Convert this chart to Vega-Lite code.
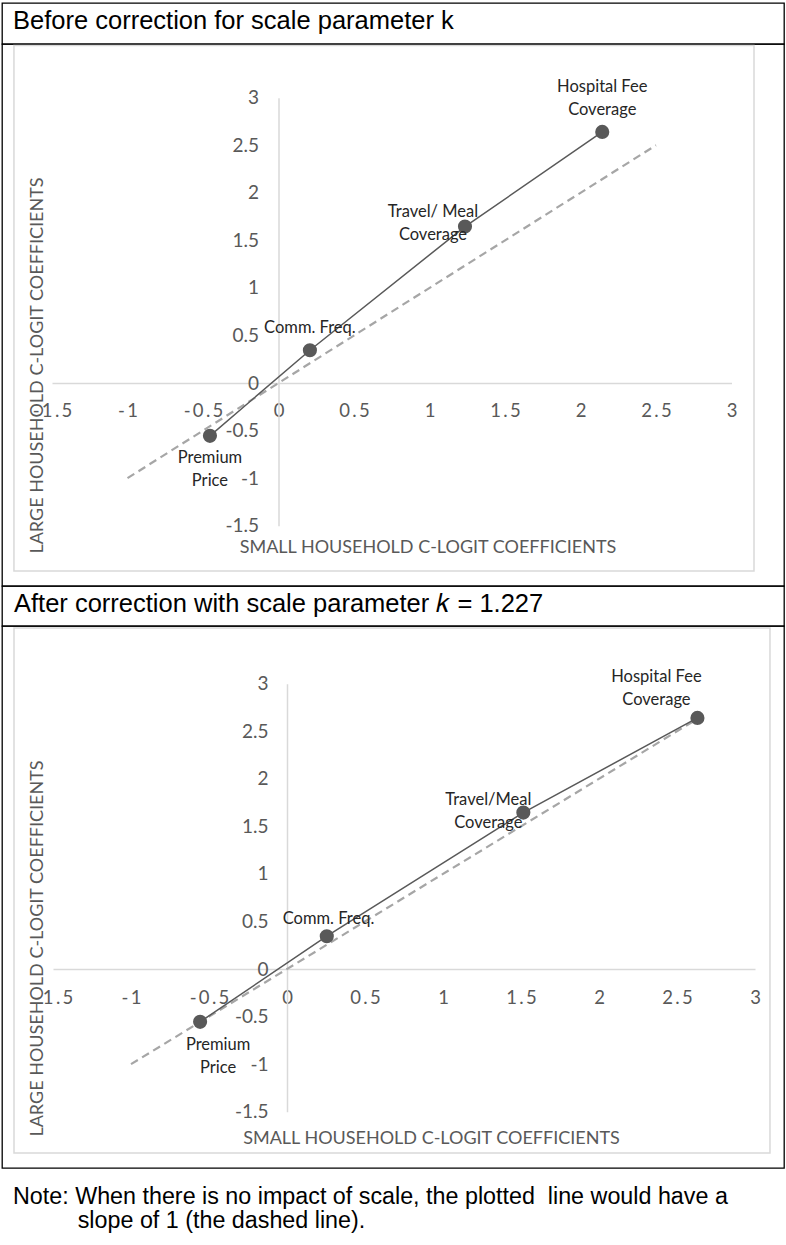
{
  "$schema": "https://vega.github.io/schema/vega-lite/v6.json",
  "background": "white",
  "padding": {"left": 1, "top": 2, "right": 0, "bottom": 0},
  "autosize": {"type": "pad"},
  "bounds": "flush",
  "spacing": 0,
  "config": {
    "view": {"stroke": "#000000", "strokeWidth": 1.3},
    "text": {"lineBreak": "\n"},
    "axis": {
      "grid": false, "ticks": false, "tickSize": 0,
      "domainColor": "#d9d9d9", "domainWidth": 1.5,
      "labelColor": "#595959", "labelFont": "Lato", "labelFontSize": 18.5,
      "labelFlush": false, "labelOverlap": false, "labelBound": false,
      "titleColor": "#595959", "titleFont": "Lato", "titleFontSize": 18, "titleFontWeight": "normal",
      "titleBaseline": "middle", "titleAlign": "center", "zindex": 0
    }
  },
  "datasets": {
    "p1": [
      {"name": "Premium Price", "label": "Premium\nPrice", "x": -0.454, "y": -0.555},
      {"name": "Comm. Freq.", "label": "Comm. Freq.", "x": 0.208, "y": 0.345},
      {"name": "Travel/Meal Coverage", "label": "Travel/ Meal\nCoverage", "x": 1.235, "y": 1.645},
      {"name": "Hospital Fee Coverage", "label": "Hospital Fee\nCoverage", "x": 2.144, "y": 2.64}
    ],
    "p2": [
      {"name": "Premium Price", "label": "Premium\nPrice", "x": -0.557, "y": -0.555},
      {"name": "Comm. Freq.", "label": "Comm. Freq.", "x": 0.255, "y": 0.345},
      {"name": "Travel/Meal Coverage", "label": "Travel/Meal\nCoverage", "x": 1.515, "y": 1.645},
      {"name": "Hospital Fee Coverage", "label": "Hospital Fee\nCoverage", "x": 2.631, "y": 2.64}
    ],
    "d1": [{"x": -1, "y": -1}, {"x": 2.5, "y": 2.5}],
    "d2": [{"x": -1, "y": -1}, {"x": 2.6, "y": 2.6}],
    "frame": [{"part": "chart area"}]
  },
  "vconcat": [
    {
      "width": 782, "height": 41,
      "data": {"values": [{"title": "Before correction for scale parameter k"}]},
      "mark": {"type": "text", "align": "left", "baseline": "alphabetic", "dx": 11, "dy": 5, "font": "Liberation Sans", "fontSize": 25.5, "color": "#000000"},
      "encoding": {
        "x": {"datum": 0, "type": "quantitative", "scale": {"domain": [0, 1]}, "axis": null},
        "y": {"datum": 0.5, "type": "quantitative", "scale": {"domain": [0, 1]}, "axis": null},
        "text": {"field": "title"}
      }
    },
    {
      "width": 782, "height": 542,
      "layer": [
        {
          "data": {"name": "frame"},
          "mark": {"type": "rect", "fill": "transparent", "stroke": "#d9d9d9", "strokeWidth": 1.5, "clip": false},
          "encoding": {
            "x": {"datum": -1.752, "type": "quantitative", "scale": {"domain": [-1.5, 3], "range": [50, 729.5], "nice": false, "zero": false}},
            "x2": {"datum": 3.149},
            "y": {"datum": 3.548, "type": "quantitative", "scale": {"domain": [-1.5, 3], "range": [481.7, 53.7], "nice": false, "zero": false}},
            "y2": {"datum": -1.977}
          }
        },
        {
          "encoding": {
            "x": {"field": "x", "type": "quantitative",
              "scale": {"domain": [-1.5, 3], "range": [50, 729.5], "nice": false, "zero": false},
              "axis": {"title": "SMALL HOUSEHOLD C-LOGIT COEFFICIENTS", "values": [-1.5, -1, -0.5, 0, 0.5, 1, 1.5, 2, 2.5, 3],
                "offset": -203, "labelPadding": 27.5, "labelBaseline": "middle",
                "labelExpr": "join(split(toString(datum.value), ''), '\u2009')",
                "titleX": 425.5, "titleY": 164}},
            "y": {"field": "y", "type": "quantitative",
              "scale": {"domain": [-1.5, 3], "range": [481.7, 53.7], "nice": false, "zero": false},
              "axis": {"title": "LARGE HOUSEHOLD C-LOGIT COEFFICIENTS", "values": [-1.5, -1, -0.5, 0, 0.5, 1, 1.5, 2, 2.5, 3],
                "offset": -276.5, "labelPadding": 20, "labelExpr": "toString(datum.value)", "labelFontSize": 19,
                "titleX": -241.5, "titleY": 321}}
          },
          "layer": [
            {"data": {"name": "d1"}, "mark": {"type": "line", "color": "#a6a6a6", "strokeWidth": 2.2, "strokeDash": [8, 5]}},
            {"data": {"name": "p1"}, "mark": {"type": "line", "color": "#595959", "strokeWidth": 1.5}},
            {"data": {"name": "p1"}, "mark": {"type": "circle", "color": "#595959", "size": 200, "opacity": 1}},
            {"data": {"name": "p1"}, "transform": [{"filter": "datum.name == 'Hospital Fee Coverage'"}],
              "mark": {"type": "text", "align": "center", "baseline": "middle", "dy": -45, "font": "Lato", "fontSize": 16.5, "lineHeight": 23, "color": "#262626"},
              "encoding": {"text": {"field": "label"}}},
            {"data": {"name": "p1"}, "transform": [{"filter": "datum.name == 'Travel/Meal Coverage'"}],
              "mark": {"type": "text", "align": "center", "baseline": "middle", "dx": -32, "dy": -14.5, "font": "Lato", "fontSize": 16.5, "lineHeight": 23, "color": "#262626"},
              "encoding": {"text": {"field": "label"}}},
            {"data": {"name": "p1"}, "transform": [{"filter": "datum.name == 'Comm. Freq.'"}],
              "mark": {"type": "text", "align": "center", "baseline": "middle", "dy": -22.5, "font": "Lato", "fontSize": 16.5, "lineHeight": 23, "color": "#262626"},
              "encoding": {"text": {"field": "label"}}},
            {"data": {"name": "p1"}, "transform": [{"filter": "datum.name == 'Premium Price'"}],
              "mark": {"type": "text", "align": "center", "baseline": "middle", "dy": 22.2, "font": "Lato", "fontSize": 16.5, "lineHeight": 23, "color": "#262626"},
              "encoding": {"text": {"field": "label"}}}
          ]
        }
      ]
    },
    {
      "width": 782, "height": 40,
      "data": {"values": [{"title": "After correction with scale parameter 𝑘 = 1.227"}]},
      "mark": {"type": "text", "align": "left", "baseline": "alphabetic", "dx": 12, "dy": 5.7, "font": "Liberation Sans", "fontSize": 25.5, "color": "#000000"},
      "encoding": {
        "x": {"datum": 0, "type": "quantitative", "scale": {"domain": [0, 1]}, "axis": null},
        "y": {"datum": 0.5, "type": "quantitative", "scale": {"domain": [0, 1]}, "axis": null},
        "text": {"field": "title"}
      }
    },
    {
      "width": 782, "height": 542,
      "layer": [
        {
          "data": {"name": "frame"},
          "mark": {"type": "rect", "fill": "transparent", "stroke": "#d9d9d9", "strokeWidth": 1.5, "clip": false},
          "encoding": {
            "x": {"datum": -1.75, "type": "quantitative", "scale": {"domain": [-1.5, 3], "range": [51, 753], "nice": false, "zero": false}},
            "x2": {"datum": 3.096},
            "y": {"datum": 3.585, "type": "quantitative", "scale": {"domain": [-1.5, 3], "range": [485.7, 57.7], "nice": false, "zero": false}},
            "y2": {"datum": -1.935}
          }
        },
        {
          "encoding": {
            "x": {"field": "x", "type": "quantitative",
              "scale": {"domain": [-1.5, 3], "range": [51, 753], "nice": false, "zero": false},
              "axis": {"title": "SMALL HOUSEHOLD C-LOGIT COEFFICIENTS", "values": [-1.5, -1, -0.5, 0, 0.5, 1, 1.5, 2, 2.5, 3],
                "offset": -199, "labelPadding": 28, "labelBaseline": "middle",
                "labelExpr": "join(split(toString(datum.value), ''), '\u2009')",
                "titleX": 429, "titleY": 169}},
            "y": {"field": "y", "type": "quantitative",
              "scale": {"domain": [-1.5, 3], "range": [485.7, 57.7], "nice": false, "zero": false},
              "axis": {"title": "LARGE HOUSEHOLD C-LOGIT COEFFICIENTS", "values": [-1.5, -1, -0.5, 0, 0.5, 1, 1.5, 2, 2.5, 3],
                "offset": -285, "labelPadding": 19, "labelExpr": "toString(datum.value)", "labelFontSize": 19,
                "titleX": -250, "titleY": 322}}
          },
          "layer": [
            {"data": {"name": "d2"}, "mark": {"type": "line", "color": "#a6a6a6", "strokeWidth": 2.2, "strokeDash": [8, 5]}},
            {"data": {"name": "p2"}, "mark": {"type": "line", "color": "#595959", "strokeWidth": 1.5}},
            {"data": {"name": "p2"}, "mark": {"type": "circle", "color": "#595959", "size": 200, "opacity": 1}},
            {"data": {"name": "p2"}, "transform": [{"filter": "datum.name == 'Hospital Fee Coverage'"}],
              "mark": {"type": "text", "align": "center", "baseline": "middle", "dx": -41, "dy": -40.9, "font": "Lato", "fontSize": 16.5, "lineHeight": 23, "color": "#262626"},
              "encoding": {"text": {"field": "label"}}},
            {"data": {"name": "p2"}, "transform": [{"filter": "datum.name == 'Travel/Meal Coverage'"}],
              "mark": {"type": "text", "align": "center", "baseline": "middle", "dx": -35, "dy": -12.7, "font": "Lato", "fontSize": 16.5, "lineHeight": 23, "color": "#262626"},
              "encoding": {"text": {"field": "label"}}},
            {"data": {"name": "p2"}, "transform": [{"filter": "datum.name == 'Comm. Freq.'"}],
              "mark": {"type": "text", "align": "center", "baseline": "middle", "dx": 1.7, "dy": -17, "font": "Lato", "fontSize": 16.5, "lineHeight": 23, "color": "#262626"},
              "encoding": {"text": {"field": "label"}}},
            {"data": {"name": "p2"}, "transform": [{"filter": "datum.name == 'Premium Price'"}],
              "mark": {"type": "text", "align": "center", "baseline": "middle", "dx": 18, "dy": 23.1, "font": "Lato", "fontSize": 16.5, "lineHeight": 23, "color": "#262626"},
              "encoding": {"text": {"field": "label"}}}
          ]
        }
      ]
    },
    {
      "width": 782, "height": 78,
      "view": {"stroke": null},
      "data": {"values": [{"note": "Note: When there is no impact of scale, the plotted\u00a0 line would have a\n\u200b\u00a0\u00a0\u00a0\u00a0\u00a0\u00a0\u00a0\u00a0\u00a0\u00a0slope of 1 (the dashed line)."}]},
      "mark": {"type": "text", "align": "left", "baseline": "alphabetic", "dx": -380, "dy": -3, "font": "Liberation Sans", "fontSize": 23.3, "lineHeight": 24, "color": "#000000"},
      "encoding": {"text": {"field": "note"}}
    }
  ]
}
